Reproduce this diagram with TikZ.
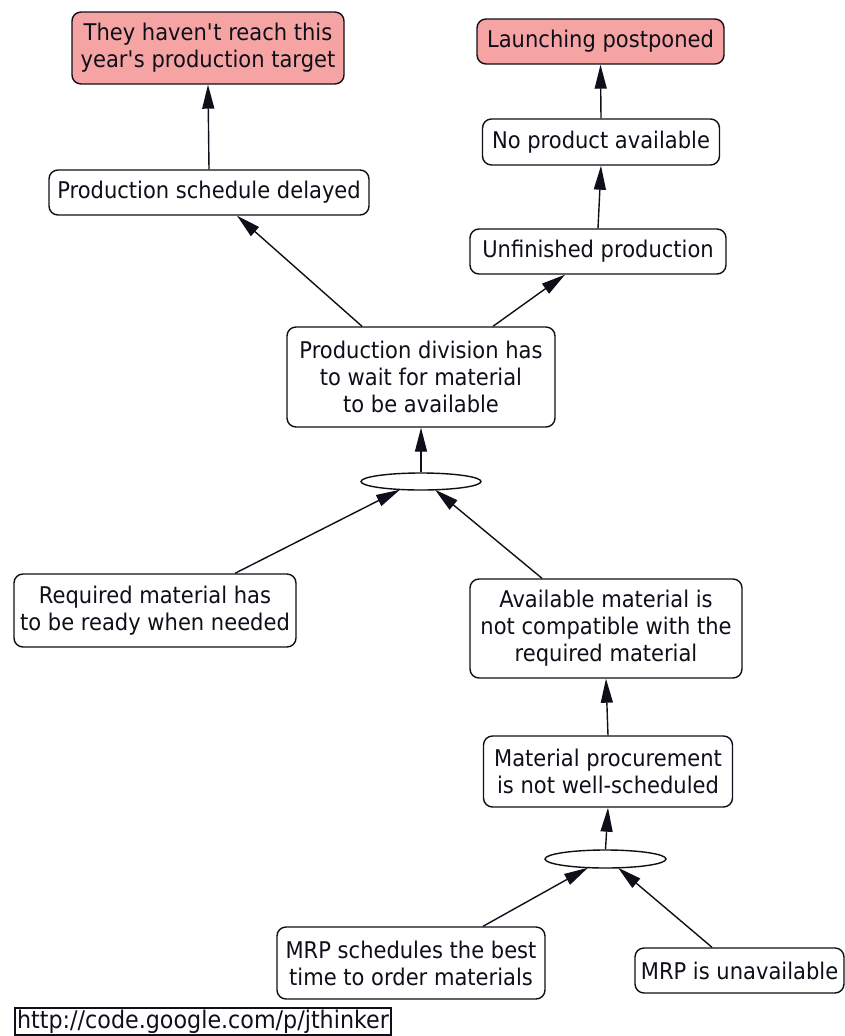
\documentclass[tikz,border=0pt]{standalone}
\usepackage{fontspec}
\setmainfont[FakeStretch=0.915]{DejaVu Sans}
\usetikzlibrary{shapes.geometric,arrows.meta,calc}
\definecolor{pinkfill}{RGB}{245,163,163}
\definecolor{inkcol}{RGB}{15,15,25}
\tikzset{
  box/.style={draw=inkcol, line width=1.4pt, rounded corners=9pt, fill=white,
    align=center, inner sep=0pt, text=inkcol,
    font=\fontsize{23}{27}\selectfont},
  effect/.style={box, fill=pinkfill},
  andnode/.style={draw=inkcol, line width=1.4pt, ellipse, fill=white, inner sep=0pt},
  link/.style={draw=inkcol, line width=1.4pt, -{Triangle[length=24pt,width=12pt]}},
  urlbox/.style={draw=inkcol, line width=1.2pt, inner sep=0pt, text=inkcol,
    font=\fontsize{24.3}{26}\selectfont}
}
\begin{document}
\begin{tikzpicture}[x=1pt,y=-1pt]
\useasboundingbox (0,0) rectangle (845,1036);
% effects
\node[effect, minimum width=272pt, minimum height=72pt] (target) at (208,48)
  {They haven\textquotesingle t reach this\\year\textquotesingle s production target};
\node[effect, minimum width=247pt, minimum height=45pt] (launch) at (600.5,41.5)
  {Launching postponed};
% intermediate
\node[box, minimum width=237pt, minimum height=46pt] (noprod) at (601,142)
  {No product available};
\node[box, minimum width=256pt, minimum height=45pt] (unfin) at (598,251.5)
  {Unfinished production};
\node[box, minimum width=320pt, minimum height=45pt] (psd) at (209,192.5)
  {Production schedule delayed};
\node[box, minimum width=268pt, minimum height=100pt] (pdw) at (421,377)
  {Production division has\\to wait for material\\to be available};
\node[andnode, minimum width=120pt, minimum height=17pt] (e1) at (421,481.5) {};
\node[box, minimum width=282pt, minimum height=73pt] (req) at (155,610.5)
  {Required material has\\to be ready when needed};
\node[box, minimum width=272pt, minimum height=99pt] (avail) at (606,628.5)
  {Available material is\\not compatible with the\\required material};
\node[box, minimum width=249pt, minimum height=71pt] (matproc) at (608,771.5)
  {Material procurement\\is not well-scheduled};
\node[andnode, minimum width=121pt, minimum height=18pt] (e2) at (605.5,859) {};
\node[box, minimum width=268pt, minimum height=72pt] (mrps) at (411,963)
  {MRP schedules the best\\time to order materials};
\node[box, minimum width=209pt, minimum height=45pt] (mrpu) at (739.5,970.5)
  {MRP is unavailable};
\node[urlbox, minimum width=376pt, minimum height=27pt] (url) at (203,1021.5)
  {http://code.google.com/p/jthinker};
% connectors
\draw[link] (psd.north) -- (target.south);
\draw[link] (noprod.north) -- (launch.south);
\draw[link] (unfin.north) -- (noprod.south);
\draw[link] ($(pdw.north)+(-59,0)$) -- ($(psd.south)+(28,0)$);
\draw[link] ($(pdw.north)+(72,0)$) -- ($(unfin.south)+(-33,0)$);
\draw[link] (e1.north) -- (pdw.south);
\draw[link] ($(req.north)+(80,0)$) -- ($(e1.south)+(-21,-1)$);
\draw[link] ($(avail.north)+(-64,0)$) -- ($(e1.south)+(14,-1)$);
\draw[link] (matproc.north) -- (avail.south);
\draw[link] (e2.north) -- (matproc.south);
\draw[link] ($(mrps.north)+(72,0)$) -- ($(e2.south)+(-17.5,-1)$);
\draw[link] ($(mrpu.north)+(-27.5,0)$) -- ($(e2.south)+(12.5,-1)$);
\end{tikzpicture}
\end{document}
